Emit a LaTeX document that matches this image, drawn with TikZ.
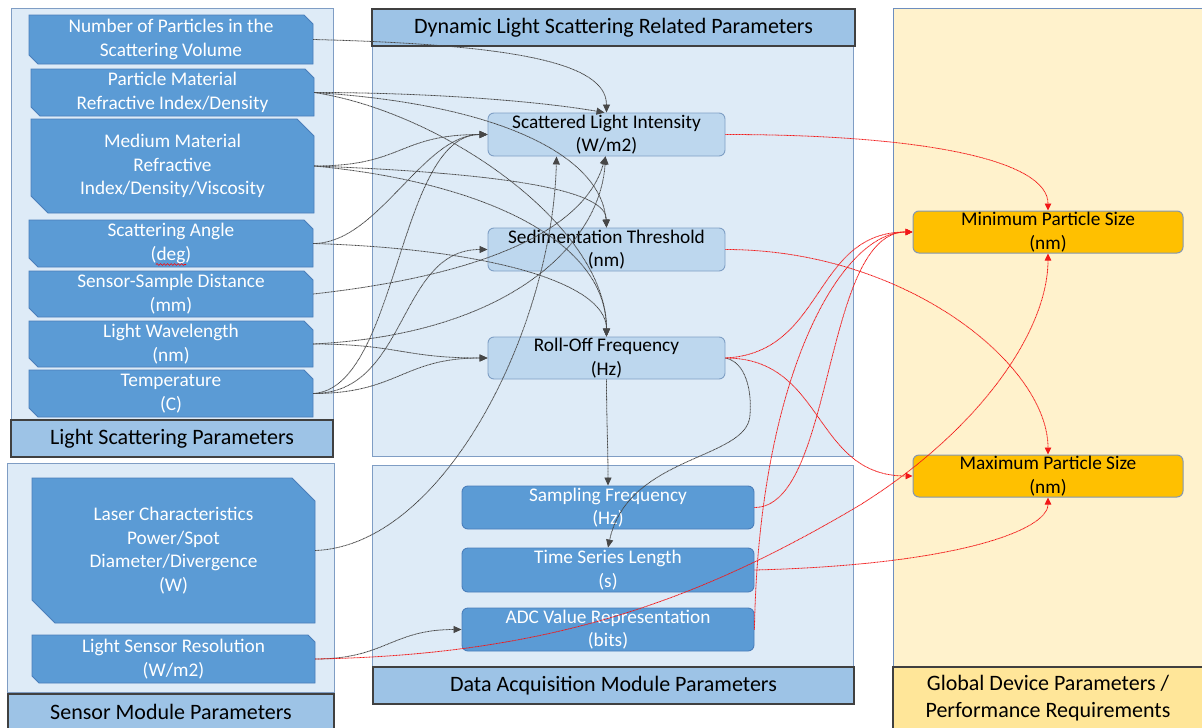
\documentclass[tikz,border=0pt]{standalone}
\usepackage{fontspec}
\setmainfont{Carlito}
\usetikzlibrary{arrows.meta,decorations.pathmorphing}

\definecolor{panelfill}{HTML}{DEEBF7}
\definecolor{panelline}{HTML}{7F9DC4}
\definecolor{barfill}{HTML}{9DC3E6}
\definecolor{barline}{HTML}{404040}
\definecolor{paramfill}{HTML}{5B9BD5}
\definecolor{paramline}{HTML}{4A7EBB}
\definecolor{dlsfill}{HTML}{BDD7EE}
\definecolor{dlsline}{HTML}{7F9FC5}
\definecolor{globfill}{HTML}{FFF2CC}
\definecolor{globbar}{HTML}{FFE699}
\definecolor{globline}{HTML}{6D8EBF}
\definecolor{reqfill}{HTML}{FFC000}
\definecolor{reqline}{HTML}{8497B0}
\definecolor{reqarrow}{HTML}{F21818}

\newcommand\boxfont{\fontsize{19.3}{23.5}\selectfont}
\newcommand\barfont{\fontsize{22}{27}\selectfont}

\tikzset{
  panel/.style={fill=panelfill, draw=panelline, line width=0.9pt},
  titlebar/.style={fill=barfill, draw=barline, line width=1.1pt},
  paramshape/.style={fill=paramfill, draw=paramline, line width=0.9pt},
  paramtext/.style={rectangle, draw=none, text=white, align=center,
    inner sep=0pt, font=\boxfont},
  dlsnode/.style={rectangle, rounded corners=6pt, fill=dlsfill, draw=dlsline,
    line width=0.9pt, align=center, inner sep=0pt, font=\boxfont,
    minimum width=237pt, minimum height=43pt},
  daqnode/.style={rectangle, rounded corners=6pt, fill=paramfill, draw=paramline,
    line width=0.9pt, text=white, align=center, inner sep=0pt, font=\boxfont,
    minimum width=292pt, minimum height=43pt},
  reqnode/.style={rectangle, rounded corners=6pt, fill=reqfill, draw=reqline,
    line width=1pt, align=center, inner sep=0pt, font=\boxfont,
    minimum width=270pt, minimum height=42pt},
  dep/.style={draw=black!72, line width=0.8pt, dash pattern=on 1pt off 0.5pt,
    -{Triangle[length=8pt,width=7pt]}},
  req/.style={draw=reqarrow, line width=0.8pt, dash pattern=on 1pt off 0.5pt,
    -{Triangle[length=7pt,width=6.5pt]}},
}

% parameter box with snipped top-right and bottom-left corners
% #1 name, #2 left, #3 top, #4 right, #5 bottom, #6 snip size, #7 text
\newcommand\parambox[7]{%
  \draw[paramshape] (#2,#3) -- ({#4-#6},#3) -- (#4,{#3+#6}) -- (#4,#5)
    -- ({#2+#6},#5) -- (#2,{#5-#6}) -- cycle;
  \node[paramtext, minimum width={(#4-#2)*1pt}, minimum height={(#5-#3)*1pt}]
    (#1) at ({(#2+#4)/2},{(#3+#5)/2}) {#7};
}

\begin{document}
\begin{tikzpicture}[x=1pt,y=-1pt]
\useasboundingbox (0,0) rectangle (1202,728);
\fill[white] (0,0) rectangle (1202,728);

% ---- group panels -------------------------------------------------------
\draw[panel] (11,8) rectangle (333,420);
\draw[titlebar] (11,420) rectangle (333,457)
  node[midway, font=\barfont] (lsptitle) {Light Scattering Parameters};

\draw[panel] (7,463) rectangle (334,692);
\draw[titlebar] (8,694) rectangle (334,730)
  node[midway, font=\barfont] (smptitle) {Sensor Module Parameters};

\draw[panel] (372,46) rectangle (853,456);
\draw[titlebar] (372,9) rectangle (855,46)
  node[midway, font=\barfont] (dlstitle) {Dynamic Light Scattering Related Parameters};

\draw[panel] (372,465) rectangle (853,667);
\draw[titlebar] (373,667) rectangle (854,704)
  node[midway, font=\barfont] (daqtitle) {Data Acquisition Module Parameters};

\draw[fill=globfill, draw=globline, line width=0.9pt] (893,8) rectangle (1205,667);
\draw[fill=globbar, draw=barline, line width=1.1pt] (893,667) rectangle (1205,731);
\node[font=\barfont, align=center] (gdptitle) at (1048,698.5)
  {Global Device Parameters /\\Performance Requirements};

% ---- light scattering parameters -----------------------------------------
\parambox{num}{29}{15}{313}{64}{9}{Number of Particles in the\\Scattering Volume}
\parambox{pmat}{31}{69}{314}{116}{9}{Particle Material\\Refractive Index/Density}
\parambox{mmat}{31}{119}{314}{213}{17}{Medium Material\\Refractive\\Index/Density/Viscosity}
\parambox{sang}{29}{220}{313}{267}{9}{Scattering Angle\\(deg)}
\parambox{ssd}{29}{271}{313}{317}{9}{Sensor-Sample Distance\\(mm)}
\parambox{lwl}{29}{321}{313}{367}{9}{Light Wavelength\\(nm)}
\parambox{temp}{29}{370}{313}{417}{9}{Temperature\\(C)}
\draw[red, line width=0.6pt, decorate,
      decoration={snake, amplitude=0.9pt, segment length=3.5pt}]
  (156,264.5) -- (186,264.5);

% ---- sensor module parameters --------------------------------------------
\parambox{laser}{32}{478}{315}{623}{23}{Laser Characteristics\\Power/Spot\\Diameter/Divergence\\(W)}
\parambox{lsr}{32}{635}{315}{683}{7}{Light Sensor Resolution\\(W/m2)}

% ---- dynamic light scattering parameters ---------------------------------
\node[dlsnode] (sli)  at (606.5,134.5) {Scattered Light Intensity\\(W/m2)};
\node[dlsnode] (sed)  at (606.5,249.5) {Sedimentation Threshold\\(nm)};
\node[dlsnode, minimum height=42pt] (roll) at (606.5,358) {Roll-Off Frequency\\(Hz)};

% ---- data acquisition parameters -----------------------------------------
\node[daqnode] (sf)  at (608,507.5) {Sampling Frequency\\(Hz)};
\node[daqnode, minimum height=44pt] (tsl) at (608,570) {Time Series Length\\(s)};
\node[daqnode] (adc) at (608,629.5) {ADC Value Representation\\(bits)};

% ---- global requirements -------------------------------------------------
\node[reqnode] (minp) at (1048,232) {Minimum Particle Size\\(nm)};
\node[reqnode] (maxp) at (1048,476) {Maximum Particle Size\\(nm)};

% ---- dependencies among parameters ---------------------------------------
\draw[dep] (num.east)  .. controls +(200,5)   and +(0,-50)  .. (sli.north);
\draw[dep] (pmat.east) .. controls +(110,0)   and +(-70,-12) .. ([xshift=-2pt]sli.north);
\draw[dep] (pmat.east) .. controls +(190,12)  and +(-5,-70) .. (sed.north);
\draw[dep] (pmat.east) .. controls +(130,20)  and +(0,-110) .. (roll.north);
\draw[dep] (mmat.east) .. controls +(90,0)    and +(-90,0)  .. (sli.west);
\draw[dep] (mmat.east) .. controls +(210,8)   and +(0,-35)  .. (sed.north);
\draw[dep] (mmat.east) .. controls +(160,15)  and +(0,-100) .. (roll.north);
\draw[dep] (sang.east) .. controls +(65,0)    and +(-65,0)  .. (sli.west);
\draw[dep] (sang.east) .. controls +(170,5)   and +(0,-55)  .. (roll.north);
\draw[dep] (ssd.east)  .. controls +(180,-20) and +(-20,70) .. ([xshift=-1pt]sli.south);
\draw[dep] (lwl.east)  .. controls +(200,-10) and +(-5,85)  .. ([xshift=-1pt]sli.south);
\draw[dep] (lwl.east)  .. controls +(85,0)    and +(-85,0)  .. (roll.west);
\draw[dep] (temp.east) .. controls +(85,-5)   and +(-90,0)  .. (sli.west);
\draw[dep] (temp.east) .. controls +(95,0)    and +(-90,0)  .. (sed.west);
\draw[dep] (temp.east) .. controls +(85,0)    and +(-85,0)  .. (roll.west);
\draw[dep] (laser.east) .. controls +(130,-5) and +(-4,170) .. ([xshift=-50pt]sli.south);
\draw[dep] (roll.south) .. controls +(0,40)   and +(0,-40)  .. (sf.north);
\draw[dep] (roll.east) .. controls +(20,4) and +(2,-25) .. (750,415)
                       .. controls +(-2,45) and +(20,-93) .. (tsl.north);
\draw[dep] (lsr.east)  .. controls +(70,0)    and +(-70,0)  .. (adc.west);

% ---- influence on global requirements ------------------------------------
\draw[req] (sli.east)  .. controls +(200,0)   and +(0,-50)  .. (minp.north);
\draw[req] (sed.east)  .. controls +(180,0)   and +(0,-90)  .. (maxp.north);
\draw[req] (roll.east) .. controls +(100,-5)  and +(-100,0) .. (minp.west);
\draw[req] (roll.east) .. controls +(100,0)   and +(-100,0) .. (maxp.west);
\draw[req] (sf.east)   .. controls +(80,0)    and +(-90,0)  .. (minp.west);
\draw[req] (adc.east)  .. controls +(4,-250)  and +(-73,0)  .. (minp.west);
\draw[req] (tsl.east)  .. controls +(200,-5)  and +(0,33)   .. (maxp.south);
\draw[req] (lsr.east)  .. controls +(235,-4) and +(-160,95) .. (860,505)
                       .. controls +(120,-75) and +(0,77)  .. (minp.south);
\end{tikzpicture}
\end{document}
